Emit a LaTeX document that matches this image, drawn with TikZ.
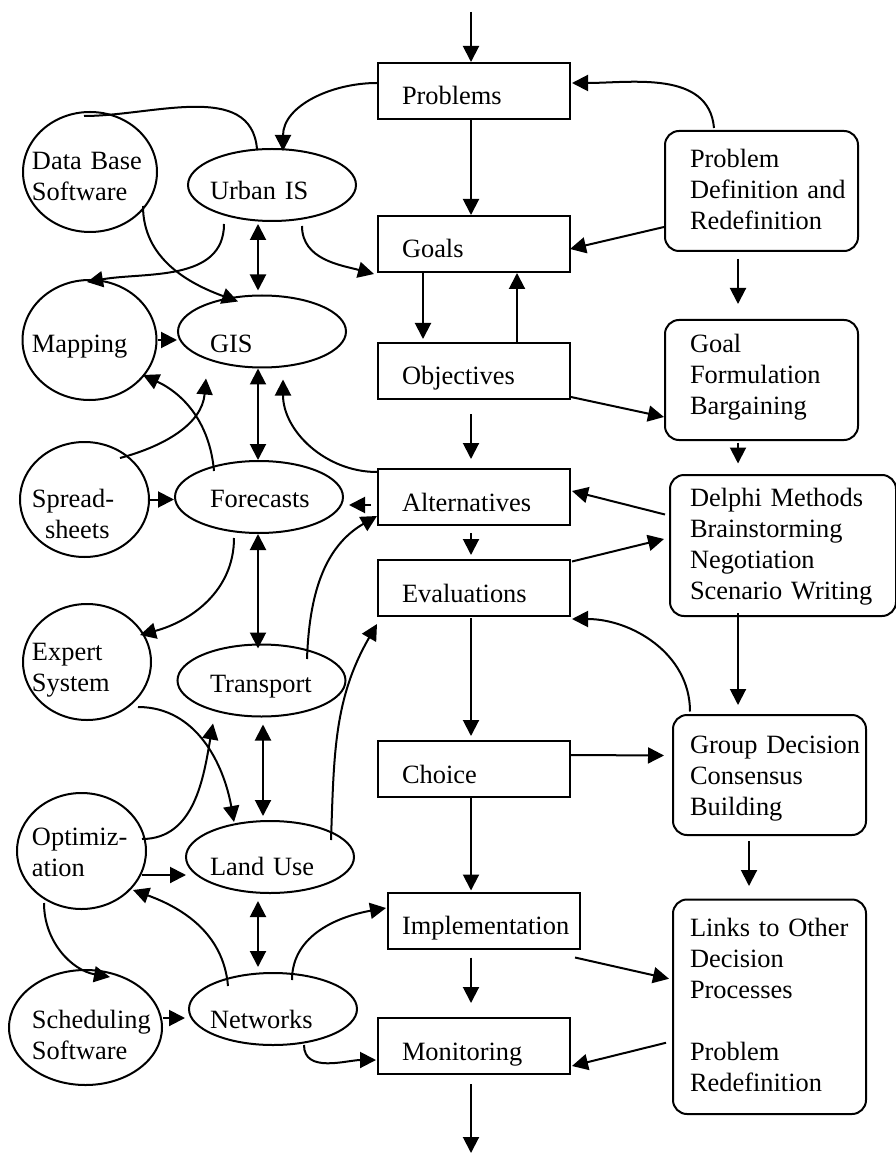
\documentclass[tikz,border=0pt]{standalone}
\usepackage{fontspec}
\setmainfont{Liberation Serif}
\usepackage{tikz}
\usetikzlibrary{shapes,arrows.meta,positioning}
\hyphenpenalty=10000

\begin{document}
\begin{tikzpicture}[x=0.5pt, y=0.5pt, font=\fontsize{13.2}{15.5}\selectfont, line width=1pt]
\tikzstyle{box} = [rectangle, draw, align=left, text width=72pt, inner xsep=12pt, inner ysep=0pt, text height=21pt, text depth=7pt]
\tikzstyle{rbox} = [rectangle, draw, rounded corners=7pt, align=left, inner ysep=0pt]
\tikzstyle{oval} = [ellipse, draw, align=left, minimum width=84pt, minimum height=36pt, inner xsep=-7pt, inner ysep=-6pt, text depth=0pt]
\tikzstyle{round} = [ellipse, draw, align=left, inner xsep=-7pt, inner ysep=-6pt]
\tikzstyle{line} = [draw, -{Triangle[length=8pt,width=8pt]}]
\tikzstyle{both} = [draw, {Triangle[length=8pt,width=8pt]}-{Triangle[length=8pt,width=8pt]}]

\useasboundingbox (0,0) rectangle (895,-1154);

% decision process
\node [box] (prob) at (474,-91) {Problems};
\node [box] (goals) at (474,-244) {Goals};
\node [box] (obj) at (474,-371) {Objectives};
\node [box] (alt) at (474,-497) {Alternatives};
\node [box] (eval) at (474,-588) {Evaluations};
\node [box] (choice) at (474,-769) {Choice};
\node [box, text width=82pt, inner xsep=7pt] (impl) at (484,-920.5) {Implementation};
\node [box] (mon) at (474,-1046) {Monitoring};
\coordinate (in) at (471,-12);
\coordinate (out) at (471,-1153);

% methods
\node [rbox, text width=71.5pt, inner xsep=12.5pt, text height=18.5pt, text depth=41.5pt] (pdef) at (761.5,-191) {Problem\\Definition~and\\Redefinition};
\node [rbox, text width=71.5pt, inner xsep=12.5pt, text height=16.5pt, text depth=43.5pt] (gform) at (761.5,-380) {Goal\\Formulation\\Bargaining};
\node [rbox, text width=93pt, inner xsep=10pt, text height=15.5pt, text depth=55pt] (delphi) at (783,-545.5) {Delphi~Methods\\Brainstorming\\Negotiation\\Scenario~Writing};
\node [rbox, text width=79.5pt, inner xsep=8.5pt, text height=19pt, text depth=41pt] (group) at (769.5,-775) {Group~Decision\\Consensus\\Building};
\node [rbox, text width=79.5pt, inner xsep=8.5pt, text height=18.5pt, text depth=88.75pt] (links) at (769.5,-1006.75) {Links~to~Other\\Decision\\Processes\\[15.5pt]Problem\\Redefinition};

% models and tools
\node [oval, text width=62pt, text height=15pt] (urban) at (272,-185) {Urban IS};
\node [oval, text width=52pt, text height=21.5pt] (gis) at (262,-331.5) {GIS};
\node [oval, text width=49pt, text height=10pt] (fcast) at (259,-497) {Forecasts};
\node [oval, text width=51.5pt, text height=11.5pt] (transp) at (261.5,-680.5) {Transport};
\node [oval, text width=60pt, text height=18pt] (landuse) at (270,-857) {Land Use};
\node [oval, text width=63pt, text height=19pt] (netw) at (273,-1009) {Networks};

\node [round, minimum width=67pt, minimum height=60pt, text width=58pt, text height=18pt, text depth=20pt] (dbsw) at (90,-172) {Data~Base\\Software};
\node [round, minimum width=67pt, minimum height=60pt, text width=57.5pt, text height=13pt, text depth=0pt] (mapping) at (89.5,-340) {Mapping};
\node [round, minimum width=64.5pt, minimum height=57.5pt, text width=52.5pt, text height=22.5pt, text depth=15pt] (sheets) at (84.5,-499.5) {Spread-\\\hspace*{6.5pt}sheets};
\node [round, minimum width=64pt, minimum height=58pt, text width=55pt, text height=16pt, text depth=18pt] (expert) at (87,-662) {Expert\\System};
\node [round, minimum width=64.5pt, minimum height=58pt, text width=49.5pt, text height=12pt, text depth=18pt] (optim) at (81.5,-851) {Optimiz-\\ation};
\node [round, minimum width=76.5pt, minimum height=57.5pt, text width=53.5pt, text height=16.5pt, text depth=16pt] (sched) at (85.5,-1027.5) {Scheduling\\Software};

% main chain
\path [line] (in) -- (in |- prob.north);
\path [line] (prob.south -| in) -- (goals.north -| in);
\path [line] ([shift={(-51,0)}]goals.south) -- ([shift={(-51,3)}]obj.north);
\path [line] ([shift={(43,0)}]obj.north) -- ([shift={(43,0)}]goals.south);
\path [line] ([shift={(-3,-14)}]obj.south) -- ([shift={(-3,9)}]alt.north);
\path [line] ([shift={(-3,-7)}]alt.south) -- ([shift={(-3,4)}]eval.north);
\path [line] ([shift={(-3,-1)}]eval.south) -- ([shift={(-3,4)}]choice.north);
\path [line] ([shift={(-3,0)}]choice.south) -- ([shift={(-13,1)}]impl.north);
\path [line] ([shift={(-13,-8)}]impl.south) -- ([shift={(-3,14)}]mon.north);
\path [line] ([shift={(-3,-9)}]mon.south) -- (out);

% right column
\path [line] ([shift={(-47.5,2)}]pdef.north) to[out=95,in=0] ([shift={(1,8)}]prob.east);
\path [line] ([shift={(0,-36)}]pdef.west) -- ([shift={(-1,-5)}]goals.east);
\path [line] ([shift={(-23.5,-7)}]pdef.south) -- ([shift={(-23.5,15)}]gform.north);
\path [line] ([shift={(0,3)}]obj.south east) -- ([shift={(0,-37)}]gform.west);
\path [line] ([shift={(-23.5,-1.5)}]gform.south) -- ([shift={(-45,10.5)}]delphi.north);
\path [line] ([shift={(-4,31)}]delphi.west) -- ([shift={(1,6)}]alt.east);
\path [line] ([shift={(1,-2.5)}]eval.north east) -- ([shift={(-5,6.5)}]delphi.west);
\path [line] ([shift={(-45,4)}]delphi.south) -- ([shift={(-31.5,9)}]group.north);
\path [line] ([shift={(-79.5,2.5)}]group.north) to[out=90,in=0] ([shift={(1,-2)}]eval.south east);
\path [line] ([shift={(0,14)}]choice.east) -- ([shift={(-8,19.5)}]group.west);
\path [line] ([shift={(-20.5,-5)}]group.south) -- ([shift={(-20.5,12.5)}]links.north);
\path [line] ([shift={(-6,-8)}]impl.south east) -- ([shift={(-3,28)}]links.west);
\path [line] ([shift={(-6,-36)}]links.west) -- ([shift={(1,-20)}]mon.east);

% left network
\path [line] ([shift={(0,8)}]prob.west) to[out=180,in=90] ([shift={(11,-3)}]urban.north);
\draw ([shift={(-15,-1)}]urban.north) to[out=95,in=0] ([shift={(-6,-5)}]dbsw.north);
\path [line] ([shift={(30,-4)}]urban.south) to[out=-90,in=165] ([shift={(-3,-1)}]goals.south west);
\path [line] ([shift={(-48,-2)}]urban.south) to[out=-90,in=10] ([shift={(-2.5,-3)}]mapping.north);
\path [both] ([shift={(-14,-2)}]urban.south) -- ([shift={(-4,4)}]gis.north);
\path [line] ([shift={(53,-34)}]dbsw.center) to[out=-90,in=160] ([shift={(-24,-7)}]gis.north);
\path [line] (mapping.east) -- (mapping.east -| gis.west);
\path [line] ([shift={(35.5,41.5)}]sheets.center) to[out=15,in=-95] ([shift={(-56,-10)}]gis.south);
\path [line] ([shift={(-45,26)}]fcast.center) to[out=95,in=-25] ([shift={(53.5,-35)}]mapping.center);
\path [both] ([shift={(-4,0)}]gis.south) -- ([shift={(-1,0)}]fcast.north);
\path [line] ([shift={(0,-4)}]alt.north west) to[out=180,in=-90] ([shift={(21,-11)}]gis.south);
\path [line] (sheets.east) -- (sheets.east -| fcast.west);
\path [line] ([shift={(-6,-8)}]alt.west) -- ([shift={(5,-8)}]fcast.east);
\path [line] ([shift={(45.5,21.5)}]transp.center) to[out=88,in=210] ([shift={(0,10)}]alt.south west);
\path [line] ([shift={(-25,-41)}]fcast.center) to[out=-90,in=15] ([shift={(53,27)}]expert.center);
\path [both] ([shift={(-1,0)}]fcast.south) -- ([shift={(-3.5,-5)}]transp.north);
\path [line] ([shift={(61,17)}]landuse.center) to[out=88,in=240] ([shift={(0,-7)}]eval.south west);
\path [line] ([shift={(51,-45)}]expert.center) to[out=0,in=100] ([shift={(-36,-2)}]landuse.north);
\path [line] ([shift={(60.5,12)}]optim.center) to[out=0,in=-100] ([shift={(-48.5,-6)}]transp.south);
\path [both] ([shift={(1.5,-7)}]transp.south) -- ([shift={(-7,4)}]landuse.north);
\path [line] ([shift={(60.5,-24)}]optim.center) -- ([shift={(1,-18)}]landuse.west);
\path [line] ([shift={(-45,23)}]netw.center) to[out=95,in=-20] ([shift={(51.5,-39)}]optim.center);
\path [both] ([shift={(-12,-7)}]landuse.south) -- ([shift={(-15,5)}]netw.north);
\path [line] ([shift={(-37.5,-52)}]optim.center) to[out=-90,in=170] ([shift={(24.5,-8)}]sched.north);
\path [line] ([shift={(0,9.5)}]sched.east) -- ([shift={(-3,-9)}]netw.west);
\path [line] ([shift={(19,29)}]netw.center) to[out=90,in=190] ([shift={(-1,12.5)}]impl.west);
\path [line] ([shift={(31,-36)}]netw.center) to[out=-90,in=180] ([shift={(-1,-14)}]mon.west);
\end{tikzpicture}
\end{document}
